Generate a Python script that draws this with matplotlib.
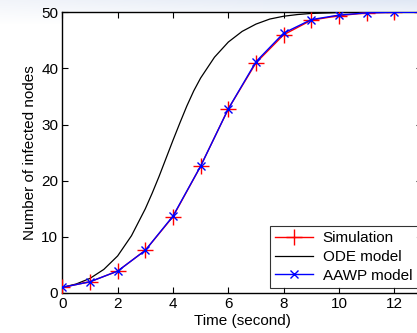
import numpy as np
import matplotlib
matplotlib.use("Agg")
import matplotlib.pyplot as plt

# Data
t_sim = [0, 1, 2, 3, 4, 5, 6, 7, 8, 9, 10, 11, 12, 13, 14]
sim = [1.0, 2.0, 3.9, 7.6, 13.6, 22.6, 32.8, 41.0, 46.0, 48.6, 49.4, 49.9, 50.0, 50.0, 50.0]
aawp = [1.0, 2.0, 3.9, 7.6, 13.7, 22.6, 32.8, 41.2, 46.3, 48.7, 49.5, 49.9, 50.0, 50.0, 50.0]

t_ode = [0, 0.5, 1, 1.5, 2, 2.5, 3, 3.25, 3.5, 3.75, 4, 4.25, 4.5, 4.75, 5,
         5.5, 6, 6.5, 7, 7.5, 8, 8.5, 9, 10, 11, 12, 13, 14]
ode = [1.0, 1.6, 2.6, 4.2, 6.6, 10.2, 15.0, 17.8, 20.8, 24.0, 27.2, 30.3, 33.3, 36.0, 38.3,
       42.0, 44.7, 46.6, 47.9, 48.8, 49.3, 49.6, 49.8, 49.95, 50.0, 50.0, 50.0, 50.0]

xticks = [0, 2, 4, 6, 8, 10, 12]
yticks = [0, 10, 20, 30, 40, 50]

plt.rcParams['font.family'] = ['Liberation Sans', 'DejaVu Sans']

fig = plt.figure(figsize=(4.17, 3.33), dpi=100)

# subtle slide gradient at the top (bluer to the right)
bg = fig.add_axes([0, 0, 1, 1], zorder=-10)
H, W = 333, 417
grad = np.ones((H, W, 3))
left = np.array([0.95, 0.96, 0.98])
right = np.array([0.88, 0.91, 0.96])
xs = np.linspace(0, 1, W)[:, None]
col = left * (1 - xs) + right * xs
for i in range(H):
    f = max(0.0, 1 - i / 24.0)
    grad[i, :, :] = col * f + (1 - f)
bg.imshow(grad, aspect='auto', extent=[0, 1, 0, 1])
bg.axis('off')

ax = fig.add_axes([62.3 / 417, 1 - 293 / 333, (422 - 62.3) / 417, (293 - 12.3) / 333])
ax.patch.set_facecolor('white')

ax.plot(t_sim, sim, color='red', lw=1.0, marker='+', ms=11, mew=1.0, label='Simulation', zorder=3)
ax.plot(t_ode, ode, color='black', lw=0.9, label='ODE model', zorder=2)
ax.plot(t_sim, aawp, color='blue', lw=1.0, marker='x', ms=6, mew=1.0, label='AAWP model', zorder=4)

ax.set_xlim(0, 13)
ax.set_ylim(0, 50)
ax.set_xticks(xticks)
ax.set_yticks(yticks)
ax.tick_params(direction='in', top=True, right=True, length=4, width=0.8, labelsize=11, pad=3)
for s in ax.spines.values():
    s.set_linewidth(1.0)

ax.set_xlabel('Time (second)', fontsize=11, labelpad=2)
ax.set_ylabel('Number of infected nodes', fontsize=11, labelpad=3)

leg = ax.legend(loc='lower right', bbox_to_anchor=(417.5 / 417, 1 - 288 / 333),
                bbox_transform=fig.transFigure, fontsize=11, frameon=True,
                fancybox=False, edgecolor='black', handlelength=2.5, borderpad=0.35,
                labelspacing=0.3, handletextpad=0.6, borderaxespad=0)
leg.get_frame().set_linewidth(0.8)

fig.savefig('out.png', dpi=100)
